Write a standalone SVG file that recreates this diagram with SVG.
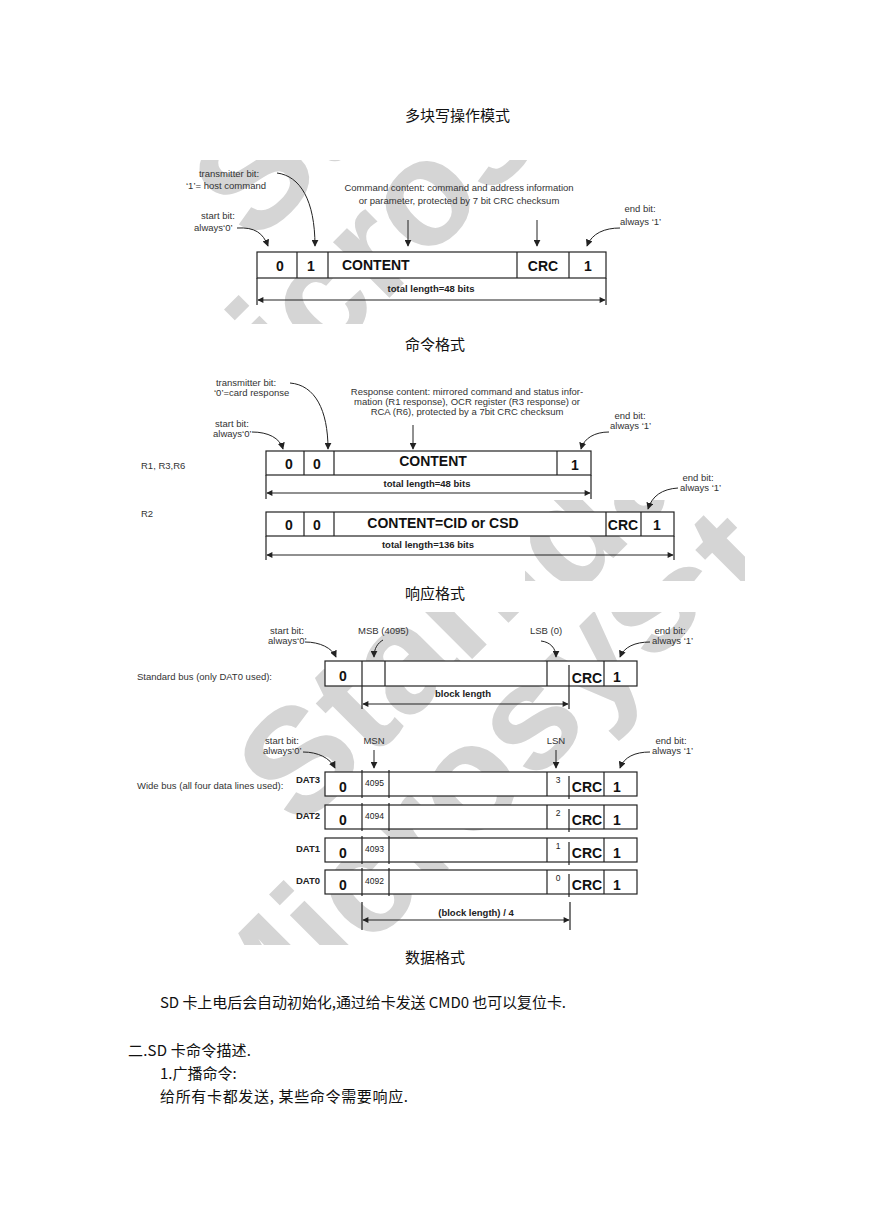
<svg xmlns="http://www.w3.org/2000/svg" width="869" height="1228" viewBox="0 0 869 1228">
<style>
.cn{font-family:"Noto Sans CJK SC","Noto Sans CJK JP",sans-serif;font-size:15px;fill:#111}
.lb{font-family:"Liberation Sans",Arial,sans-serif;font-size:9.5px;fill:#333}
.bx{font-family:"Liberation Sans",Arial,sans-serif;font-weight:bold;font-size:14px;fill:#111}
.tl{font-family:"Liberation Sans",Arial,sans-serif;font-weight:bold;font-size:9.5px;fill:#222}
.sm{font-family:"Liberation Sans",Arial,sans-serif;font-size:8.5px;fill:#222}
.box{fill:#fff;stroke:#222;stroke-width:1.2}
.ln{stroke:#222;stroke-width:1.2;fill:none}
.ar{stroke:#222;stroke-width:1;fill:none;marker-end:url(#ah)}
.ar2{stroke:#222;stroke-width:1.2;fill:none;marker-start:url(#ah2);marker-end:url(#ah2)}
.wm{font-family:"Liberation Sans",Arial,sans-serif;font-weight:bold;font-size:150px;fill:#d5d5d5}
</style>
<defs>
<marker id="ah" viewBox="0 0 10 10" refX="9" refY="5" markerWidth="7" markerHeight="7" markerUnits="userSpaceOnUse" orient="auto"><path d="M0,0 L10,5 L0,10 z" fill="#222"/></marker>
<marker id="ah2" viewBox="0 0 10 10" refX="9" refY="5" markerWidth="7" markerHeight="6" markerUnits="userSpaceOnUse" orient="auto-start-reverse"><path d="M0,0 L10,5 L0,10 z" fill="#222"/></marker>
<g id="wmpat">
<text class="wm" transform="translate(299.8,831.6) rotate(-45)">Standard</text>
<text class="wm" transform="translate(250.2,1067) rotate(-45)">Microsystems</text>
</g>
<clipPath id="c1"><rect x="180" y="160" width="450" height="164"/></clipPath>
<clipPath id="c2"><rect x="525" y="500" width="220" height="81"/></clipPath>
<clipPath id="c3"><rect x="130" y="612" width="615" height="333"/></clipPath>
</defs>
<rect width="869" height="1228" fill="#fff"/>

<g id="watermark">
<g clip-path="url(#c1)"><use href="#wmpat" transform="translate(-45,-585)"/></g>
<g clip-path="url(#c2)"><use href="#wmpat" transform="translate(40,0)"/></g>
<g clip-path="url(#c3)"><use href="#wmpat"/></g>
</g>

<g id="headings">
<text class="cn" x="405" y="121">多块写操作模式</text>
<text class="cn" x="405" y="350">命令格式</text>
<text class="cn" x="405" y="599">响应格式</text>
<text class="cn" x="405" y="963">数据格式</text>
</g>

<!-- Command format -->
<g id="cmd-frame">
<rect class="box" x="257" y="252" width="349" height="26"/>
<path class="ln" d="M297,252V278M328,252V278M517,252V278M569,252V278M257,278V305M606,278V305"/>
<text class="bx" x="280" y="271" text-anchor="middle">0</text>
<text class="bx" x="311" y="271" text-anchor="middle">1</text>
<text class="bx" x="342" y="270">CONTENT</text>
<text class="bx" x="543" y="271" text-anchor="middle">CRC</text>
<text class="bx" x="588" y="271" text-anchor="middle">1</text>
<text class="tl" x="431" y="292" text-anchor="middle">total length=48 bits</text>
</g>
<g id="cmd-labels">
<text class="lb" x="229" y="177" text-anchor="middle">transmitter bit:</text>
<text class="lb" x="186" y="189">‘1’= host command</text>
<text class="lb" x="218" y="219" text-anchor="middle">start bit:</text>
<text class="lb" x="194" y="231">always‘0’</text>
<text class="lb" x="459" y="191" text-anchor="middle">Command content: command and address information</text>
<text class="lb" x="459" y="204" text-anchor="middle">or parameter, protected by 7 bit CRC checksum</text>
<text class="lb" x="640" y="212" text-anchor="middle">end bit:</text>
<text class="lb" x="620" y="225">always ‘1’</text>
</g>

<!-- Response format -->
<g id="resp-r1">
<rect class="box" x="266" y="451" width="325" height="24"/>
<path class="ln" d="M304,451V475M334,451V475M557,451V475M266,475V499M591,475V499"/>
<text class="bx" x="289" y="469" text-anchor="middle">0</text>
<text class="bx" x="317" y="469" text-anchor="middle">0</text>
<text class="bx" x="433" y="466" text-anchor="middle">CONTENT</text>
<text class="bx" x="575" y="470" text-anchor="middle">1</text>
<text class="tl" x="427" y="487" text-anchor="middle">total length=48 bits</text>
</g>
<g id="resp-r2">
<rect class="box" x="266" y="512" width="408" height="24"/>
<path class="ln" d="M304,512V536M334,512V536M606,512V536M641,512V536M266,536V560M674,536V560"/>
<text class="bx" x="289" y="530" text-anchor="middle">0</text>
<text class="bx" x="317" y="530" text-anchor="middle">0</text>
<text class="bx" x="443" y="528" text-anchor="middle">CONTENT=CID or CSD</text>
<text class="bx" x="623" y="530" text-anchor="middle" font-size="13">CRC</text>
<text class="bx" x="657" y="530" text-anchor="middle">1</text>
<text class="tl" x="428" y="548" text-anchor="middle">total length=136 bits</text>
</g>
<g id="resp-labels">
<text class="lb" x="141" y="469">R1, R3,R6</text>
<text class="lb" x="141" y="517">R2</text>
<text class="lb" x="246" y="386" text-anchor="middle">transmitter bit:</text>
<text class="lb" x="214" y="396">‘0’=card response</text>
<text class="lb" x="232" y="427" text-anchor="middle">start bit:</text>
<text class="lb" x="213" y="437">always‘0’</text>
<text class="lb" x="467" y="395" text-anchor="middle">Response content: mirrored command and status infor-</text>
<text class="lb" x="467" y="405" text-anchor="middle">mation (R1 response), OCR register (R3 response) or</text>
<text class="lb" x="467" y="415" text-anchor="middle">RCA (R6), protected by a 7bit CRC checksum</text>
<text class="lb" x="630" y="419" text-anchor="middle">end bit:</text>
<text class="lb" x="610" y="429">always ‘1’</text>
<text class="lb" x="698" y="481" text-anchor="middle">end bit:</text>
<text class="lb" x="680" y="491">always ‘1’</text>
</g>

<!-- Data format -->
<g id="std-bus">
<rect class="box" x="325" y="661" width="312" height="25"/>
<path class="ln" d="M362,661V709M385,661V686M547,661V686M569,665V709M604,661V686"/>
<text class="bx" x="343" y="681" text-anchor="middle">0</text>
<text class="bx" x="587" y="683" text-anchor="middle" font-size="13">CRC</text>
<text class="bx" x="617" y="682" text-anchor="middle">1</text>
<text class="tl" x="463" y="697" text-anchor="middle">block length</text>
</g>
<g id="std-labels">
<text class="lb" x="137" y="680" font-size="9">Standard bus (only DAT0 used):</text>
<text class="lb" x="287" y="634" text-anchor="middle">start bit:</text>
<text class="lb" x="268" y="644">always‘0’</text>
<text class="lb" x="358" y="634">MSB (4095)</text>
<text class="lb" x="530" y="634">LSB (0)</text>
<text class="lb" x="670" y="634" text-anchor="middle">end bit:</text>
<text class="lb" x="652" y="644">always ‘1’</text>
</g>
<g id="wide-labels">
<text class="lb" x="137" y="789" font-size="9">Wide bus (all four data lines used):</text>
<text class="lb" x="282" y="744" text-anchor="middle">start bit:</text>
<text class="lb" x="263" y="754">always‘0’</text>
<text class="lb" x="374" y="744" text-anchor="middle">MSN</text>
<text class="lb" x="556" y="744" text-anchor="middle">LSN</text>
<text class="lb" x="671" y="744" text-anchor="middle">end bit:</text>
<text class="lb" x="652" y="754">always ‘1’</text>
</g>
<g id="dat3">
<rect class="box" x="325" y="772" width="312" height="24"/>
<path class="ln" d="M362,770V798M389,770V798M547,772V796M569,776V799M604,772V796"/>
<text class="tl" x="296" y="783">DAT3</text>
<text class="bx" x="343" y="792" text-anchor="middle" font-size="15">0</text>
<text class="sm" x="365" y="786">4095</text>
<text class="sm" x="558" y="783" text-anchor="middle">3</text>
<text class="bx" x="587" y="792" text-anchor="middle">CRC</text>
<text class="bx" x="617" y="792" text-anchor="middle">1</text>
</g>
<g id="dat2">
<rect class="box" x="325" y="805" width="312" height="24"/>
<path class="ln" d="M362,803V831M389,803V831M547,805V829M569,809V832M604,805V829"/>
<text class="tl" x="296" y="819">DAT2</text>
<text class="bx" x="343" y="825" text-anchor="middle" font-size="15">0</text>
<text class="sm" x="365" y="819">4094</text>
<text class="sm" x="558" y="816" text-anchor="middle">2</text>
<text class="bx" x="587" y="825" text-anchor="middle">CRC</text>
<text class="bx" x="617" y="825" text-anchor="middle">1</text>
</g>
<g id="dat1">
<rect class="box" x="325" y="838" width="312" height="24"/>
<path class="ln" d="M362,836V864M389,836V864M547,838V862M569,842V865M604,838V862"/>
<text class="tl" x="296" y="852">DAT1</text>
<text class="bx" x="343" y="858" text-anchor="middle" font-size="15">0</text>
<text class="sm" x="365" y="852">4093</text>
<text class="sm" x="558" y="849" text-anchor="middle">1</text>
<text class="bx" x="587" y="858" text-anchor="middle">CRC</text>
<text class="bx" x="617" y="858" text-anchor="middle">1</text>
</g>
<g id="dat0">
<rect class="box" x="325" y="870" width="312" height="24"/>
<path class="ln" d="M362,868V896M389,868V896M547,870V894M569,874V897M604,870V894"/>
<text class="tl" x="296" y="884">DAT0</text>
<text class="bx" x="343" y="890" text-anchor="middle" font-size="15">0</text>
<text class="sm" x="365" y="884">4092</text>
<text class="sm" x="558" y="881" text-anchor="middle">0</text>
<text class="bx" x="587" y="890" text-anchor="middle">CRC</text>
<text class="bx" x="617" y="890" text-anchor="middle">1</text>
</g>
<g id="wide-len">
<path class="ln" d="M362,902V930M570,902V930"/>
<text class="tl" x="476" y="916" text-anchor="middle" font-size="10">(block length) / 4</text>
</g>

<g id="connectors">
<path class="ar2" d="M258,300H605"/>
<path class="ar" d="M237,228C255,227 263,233 268,246"/>
<path class="ar" d="M277,173C300,176 315,200 315,246"/>
<path class="ar" d="M408,220V246"/>
<path class="ar" d="M537,220V246"/>
<path class="ar" d="M620,228C605,228 592,233 587,246"/>

<path class="ar2" d="M267,493H590"/>
<path class="ar" d="M252,432C268,432 280,438 283,449"/>
<path class="ar" d="M290,383C315,385 328,410 328,449"/>
<path class="ar" d="M413,425V449"/>
<path class="ar" d="M609,432C595,432 584,438 581,449"/>
<path class="ar2" d="M267,555H673"/>
<path class="ar" d="M678,488C662,489 652,496 648,509"/>

<path class="ar2" d="M363,704H568"/>
<path class="ar" d="M305,642C320,642 332,648 336,657"/>
<path class="ar" d="M383,640C378,643 374,648 374,657"/>
<path class="ar" d="M541,641C550,642 556,648 556,657"/>
<path class="ar" d="M650,642C635,642 624,647 620,657"/>

<path class="ar" d="M303,752C318,752 330,758 335,768"/>
<path class="ar" d="M374,750V768"/>
<path class="ar" d="M556,750V768"/>
<path class="ar" d="M650,752C635,752 624,757 620,768"/>
<path class="ar2" d="M363,920H569"/>
</g>

<g id="body-text">
<text class="cn" x="160" y="1008" textLength="406" lengthAdjust="spacing">SD 卡上电后会自动初始化,通过给卡发送 CMD0 也可以复位卡.</text>
<text class="cn" x="128" y="1056" textLength="123" lengthAdjust="spacing">二.SD 卡命令描述.</text>
<text class="cn" x="160" y="1079">1.广播命令:</text>
<text class="cn" x="160" y="1102" textLength="248" lengthAdjust="spacing">给所有卡都发送, 某些命令需要响应.</text>
</g>
</svg>
